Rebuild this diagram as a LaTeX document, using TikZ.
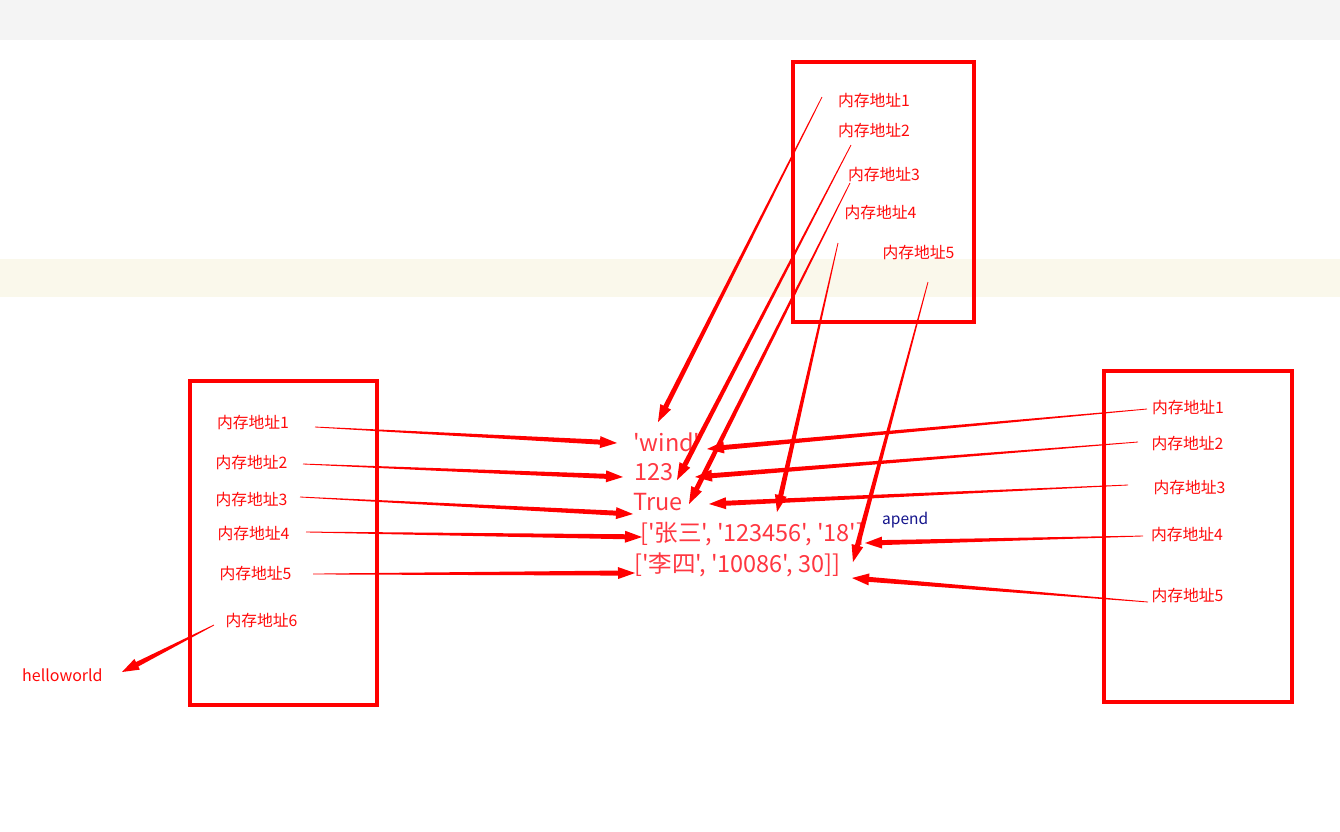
\documentclass[tikz,border=0pt]{standalone}
\usepackage{fontspec}
\newfontfamily\cjkf{Noto Sans CJK SC}
\usetikzlibrary{calc}
\definecolor{arrowred}{RGB}{255,0,0}
\definecolor{labelred}{RGB}{255,10,10}
\definecolor{valred}{RGB}{255,55,65}
\definecolor{bandgray}{RGB}{244,244,244}
\definecolor{bandyellow}{RGB}{250,248,235}
\definecolor{navy}{RGB}{20,20,140}
\newcommand{\tarrow}[2]{%
  \path ($(#2)!17pt!(#1)$) coordinate (tb);
  \fill[arrowred] ($(#1)!0.4pt!90:(#2)$) -- ($(tb)!2.5pt!90:(#2)$) -- ($(tb)!6pt!90:(#2)$) -- (#2)
     -- ($(tb)!6pt!-90:(#2)$) -- ($(tb)!2.5pt!-90:(#2)$) -- ($(#1)!0.4pt!-90:(#2)$) -- cycle;
}
\begin{document}
\begin{tikzpicture}[x=1pt,y=-1pt,
  lbl/.style={text=labelred,font=\cjkf\fontsize{15.8}{18}\selectfont,inner sep=0pt},
  val/.style={text=valred,font=\cjkf\fontsize{23.5}{26}\selectfont,inner sep=0pt,anchor=west},
  memBox/.style={draw=arrowred,line width=4pt,inner sep=0pt}]
\useasboundingbox (0,0) rectangle (1340,831);
\fill[white] (0,0) rectangle (1340,831);
\fill[bandgray] (0,0) rectangle (1340,40);
\fill[bandyellow] (0,259) rectangle (1340,297);

% boxes
\node[memBox,minimum width=181pt,minimum height=260pt] (topbox) at (883.5,192) {};
\node[memBox,minimum width=187pt,minimum height=324pt] (leftbox) at (283.5,543) {};
\node[memBox,minimum width=188pt,minimum height=331pt] (rightbox) at (1198,536.5) {};

% labels top
\node[lbl] (T1) at (874,101) {内存地址1};
\node[lbl] (T2) at (874,131) {内存地址2};
\node[lbl] (T3) at (884,175) {内存地址3};
\node[lbl] (T4) at (880.5,213) {内存地址4};
\node[lbl] (T5) at (918.5,253) {内存地址5};
% labels left
\node[lbl] (L1) at (253,422) {内存地址1};
\node[lbl] (L2) at (251.5,462) {内存地址2};
\node[lbl] (L3) at (251.5,499) {内存地址3};
\node[lbl] (L4) at (253.5,533) {内存地址4};
\node[lbl] (L5) at (255.5,573) {内存地址5};
\node[lbl] (L6) at (261.5,620) {内存地址6};
% labels right
\node[lbl] (R1) at (1188,407) {内存地址1};
\node[lbl] (R2) at (1187.5,443) {内存地址2};
\node[lbl] (R3) at (1189.5,487) {内存地址3};
\node[lbl] (R4) at (1187,534) {内存地址4};
\node[lbl] (R5) at (1187.5,595) {内存地址5};

% values
\node[val] (wind) at (633,442) {'wind'};
\node[val] (n123) at (634,472) {123};
\node[val] (true) at (633,502) {True};
\node[val] (zhang) at (640,534) {['张三', '123456', '18']};
\node[val] (li) at (634,565) {['李四', '10086', 30]]};
\node[lbl,anchor=west,font=\cjkf\fontsize{16}{19}\selectfont] (hello) at (22,675) {helloworld};
\node[anchor=west,inner sep=0pt,text=navy,font=\cjkf\fontsize{15.5}{18}\selectfont] (apend) at (882,520) {apend};

% arrow end points
\coordinate (sT1) at (822,97);   \coordinate (eT1) at (658,422);
\coordinate (sT2) at (851,145);  \coordinate (eT2) at (677,480);
\coordinate (sT3) at (850,183);  \coordinate (eT3) at (689,504);
\coordinate (sT4) at (838,243);  \coordinate (eT4) at (777,512);
\coordinate (sT5) at (928,282);  \coordinate (eT5) at (853,562);

\coordinate (sL1) at (315,427);  \coordinate (eL1) at (617,443);
\coordinate (sL2) at (303,464);  \coordinate (eL2) at (623,477);
\coordinate (sL3) at (300,497);  \coordinate (eL3) at (633,514);
\coordinate (sL4) at (306,532);  \coordinate (eL4) at (642,537);
\coordinate (sL5) at (313,574);  \coordinate (eL5) at (635,573);
\coordinate (sL6) at (214,625);  \coordinate (eL6) at (122,672);

\coordinate (sR1) at (1147,409); \coordinate (eR1) at (707,449);
\coordinate (sR2) at (1138,442); \coordinate (eR2) at (695,477);
\coordinate (sR3) at (1128,485); \coordinate (eR3) at (709,504);
\coordinate (sR4) at (1143,536); \coordinate (eR4) at (865,543);
\coordinate (sR5) at (1148,602); \coordinate (eR5) at (852,578);

\foreach \s/\e in {sT1/eT1,sT2/eT2,sT3/eT3,sT4/eT4,sT5/eT5,
                   sL1/eL1,sL2/eL2,sL3/eL3,sL4/eL4,sL5/eL5,sL6/eL6,
                   sR1/eR1,sR2/eR2,sR3/eR3,sR4/eR4,sR5/eR5}{\tarrow{\s}{\e}}
\end{tikzpicture}
\end{document}
